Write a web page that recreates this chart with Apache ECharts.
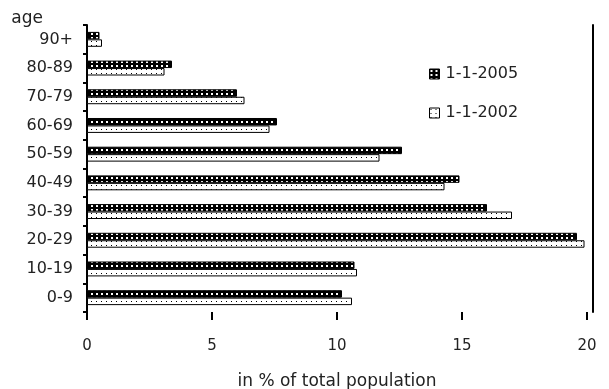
<!DOCTYPE html>
<html>
<head>
<meta charset="utf-8">
<script src="https://cdn.jsdelivr.net/npm/echarts@6/dist/echarts.min.js"></script>
<style>
  html, body { margin: 0; padding: 0; background: #fff; }
  #chart { width: 609px; height: 389px; }
</style>
</head>
<body>
<div id="chart"></div>
<script>
// Age groups, bottom to top
const ageGroups = ['0-9', '10-19', '20-29', '30-39', '40-49', '50-59', '60-69', '70-79', '80-89', '90+'];
// Share of total population (%)
const share2005 = [10.2, 10.7, 19.6, 16.0, 14.9, 12.6, 7.6, 6.0, 3.4, 0.5];
const share2002 = [10.6, 10.8, 19.9, 17.0, 14.3, 11.7, 7.3, 6.3, 3.1, 0.6];
const seriesNames = ['1-1-2005', '1-1-2002'];
const xTicks = { min: 0, max: 20, step: 5 };

// Hatch fills for the bars
function makePattern(bg, fg, dot) {
  const c = document.createElement('canvas');
  c.width = 5; c.height = 4;
  const ctx = c.getContext('2d');
  ctx.fillStyle = bg;
  ctx.fillRect(0, 0, 5, 4);
  ctx.fillStyle = fg;
  ctx.fillRect(1, 1, dot, dot);
  return c;
}
const darkFill = { image: makePattern('#000', '#fff', 2), repeat: 'repeat' };
const lightFill = { image: makePattern('#fff', '#000', 1), repeat: 'repeat' };

const font = 'DejaVu Sans';
const textColor = '#222';

const chart = echarts.init(document.getElementById('chart'), null, { renderer: 'canvas' });
chart.setOption({
  animation: false,
  backgroundColor: '#fff',
  grid: { left: 87, right: 22, top: 25, bottom: 77, containLabel: false, outerBoundsMode: 'none' },
  legend: {
    orient: 'vertical',
    left: 424,
    top: 61,
    itemWidth: 10,
    itemHeight: 10,
    itemGap: 23,
    icon: 'rect',
    data: seriesNames,
    textStyle: { fontFamily: font, fontSize: 16, color: textColor, padding: [0, 0, 0, 1] },
    itemStyle: { borderColor: '#000', borderWidth: 1 }
  },
  xAxis: {
    type: 'value',
    min: xTicks.min,
    max: xTicks.max,
    interval: xTicks.step,
    name: 'in % of total population',
    nameLocation: 'middle',
    nameGap: 61,
    nameTextStyle: { fontFamily: font, fontSize: 17, color: textColor },
    axisLine: { show: false },
    axisTick: { show: true, length: 8, lineStyle: { color: '#000', width: 2 } },
    axisLabel: { margin: 27, fontFamily: font, fontSize: 15, color: textColor },
    splitLine: { show: false }
  },
  yAxis: [{
    type: 'category',
    data: ageGroups,
    name: 'age',
    nameLocation: 'end',
    nameGap: -2,
    nameTextStyle: { fontFamily: font, fontSize: 17, color: textColor, align: 'right', padding: [0, 44, 0, 0] },
    axisLine: { show: true, lineStyle: { color: '#000', width: 2 } },
    axisTick: { show: true, length: 4, interval: 0, lineStyle: { color: '#000', width: 2 } },
    axisLabel: { margin: 14, fontFamily: font, fontSize: 16, color: textColor }
  }, {
    type: 'category',
    data: ageGroups,
    position: 'right',
    offset: 6,
    axisLine: { show: true, lineStyle: { color: '#000', width: 2 } },
    axisTick: { show: false },
    axisLabel: { show: false }
  }],
  series: [{
    name: seriesNames[0],
    type: 'bar',
    data: share2005,
    barGap: '0%',
    barCategoryGap: '48%',
    itemStyle: { color: darkFill, borderColor: '#000', borderWidth: 1 }
  }, {
    name: seriesNames[1],
    type: 'bar',
    data: share2002,
    barGap: '0%',
    barCategoryGap: '48%',
    itemStyle: { color: lightFill, borderColor: '#000', borderWidth: 1 }
  }]
});
</script>
</body>
</html>
